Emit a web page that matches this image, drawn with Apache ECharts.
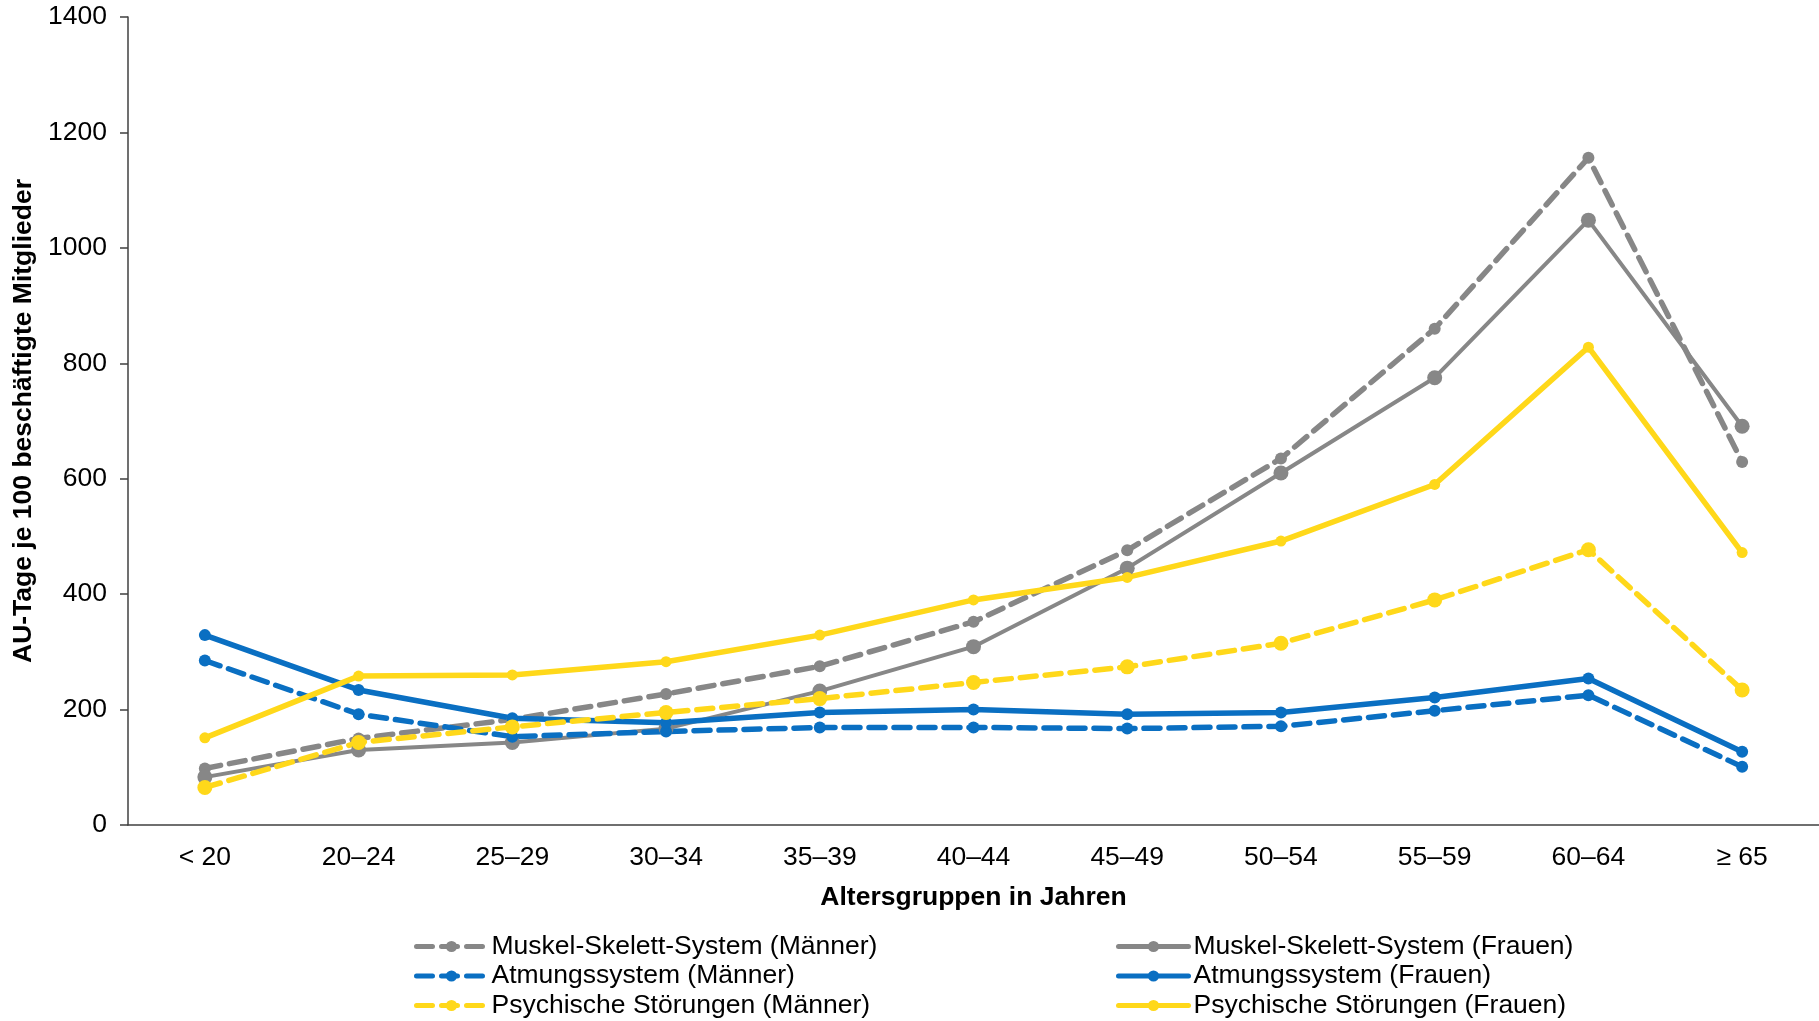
<!DOCTYPE html>
<html>
<head>
<meta charset="utf-8">
<script src="https://cdn.jsdelivr.net/npm/echarts@6/dist/echarts.min.js"></script>
<style>
html,body{margin:0;padding:0;background:#fff;}
#chart{width:1819px;height:1021px;}
</style>
</head>
<body>
<div id="chart"></div>
<script>
const categories = ['< 20','20–24','25–29','30–34','35–39','40–44','45–49','50–54','55–59','60–64','≥ 65'];
const yTicks = [0,200,400,600,800,1000,1200,1400];

const muskelMaenner = [98,150,183,227,275,352,476,635,860,1156,629];
const muskelFrauen  = [83,130,143,167,232,309,445,610,775,1048,691];
const atmungMaenner = [285,192,153,162,169,169,167,171,198,225,101];
const atmungFrauen  = [329,234,185,177,195,200,192,195,221,254,127];
const psychMaenner  = [65,143,170,195,219,247,274,315,390,477,234];
const psychFrauen   = [151,258,260,283,329,390,429,492,590,828,472];

const GRAY = '#878787', BLUE = '#0A6FC2', YELLOW = '#FFD81A';
const FONT = "'Liberation Sans', Arial, sans-serif";
const FS = 26.5;

function mk(name, data, color, dashed, width, size){
  return {
    name: name, type: 'line', data: data,
    symbol: 'circle', symbolSize: size,
    itemStyle: {color: color},
    lineStyle: {color: color, width: width, type: dashed ? [16, 9] : 'solid', cap: 'round'},
    emphasis: {disabled: true},
    animation: false
  };
}

const legendBase = {
  orient: 'vertical', top: 928, height: 95,
  itemWidth: 70, itemHeight: 14, itemGap: 2.5, itemTextGap: 7,
  lineStyle: {width: 5},
  textStyle: {fontFamily: FONT, fontSize: FS, color: '#000', lineHeight: 27},
  selectedMode: false
};

const chart = echarts.init(document.getElementById('chart'));
chart.setOption({
  backgroundColor: '#fff',
  animation: false,
  grid: {left: 128, top: 17, width: 1698, height: 808},
  xAxis: {
    type: 'category', data: categories, boundaryGap: true,
    name: 'Altersgruppen in Jahren', nameLocation: 'middle', nameGap: 59,
    nameTextStyle: {fontFamily: FONT, fontSize: FS, fontWeight: 'bold', color: '#000'},
    axisLine: {lineStyle: {color: '#404040', width: 1.5}},
    axisTick: {show: false},
    axisLabel: {fontFamily: FONT, fontSize: FS, color: '#000', margin: 19, interval: 0}
  },
  yAxis: {
    type: 'value', min: yTicks[0], max: yTicks[yTicks.length-1], interval: 200,
    name: 'AU-Tage je 100 beschäftigte Mitglieder', nameLocation: 'middle', nameGap: 85,
    nameTextStyle: {fontFamily: FONT, fontSize: FS, fontWeight: 'bold', color: '#000'},
    axisLine: {show: true, lineStyle: {color: '#404040', width: 1.5}},
    axisTick: {show: true, length: 8, lineStyle: {color: '#404040', width: 1.5}},
    splitLine: {show: false},
    axisLabel: {fontFamily: FONT, fontSize: FS, color: '#000', margin: 21, formatter: function(v){ return String(v); }}
  },
  legend: [
    Object.assign({}, legendBase, {
      left: 409,
      data: ['Muskel-Skelett-System (Männer)','Atmungssystem (Männer)','Psychische Störungen (Männer)']
    }),
    Object.assign({}, legendBase, {
      left: 1111,
      data: ['Muskel-Skelett-System (Frauen)','Atmungssystem (Frauen)','Psychische Störungen (Frauen)']
    })
  ],
  series: [
    mk('Muskel-Skelett-System (Männer)', muskelMaenner, GRAY, true, 5.5, 12),
    mk('Muskel-Skelett-System (Frauen)', muskelFrauen, GRAY, false, 4, 15),
    mk('Atmungssystem (Männer)', atmungMaenner, BLUE, true, 5.5, 12),
    mk('Atmungssystem (Frauen)', atmungFrauen, BLUE, false, 5.5, 12),
    mk('Psychische Störungen (Männer)', psychMaenner, YELLOW, true, 5.5, 15),
    mk('Psychische Störungen (Frauen)', psychFrauen, YELLOW, false, 5.5, 11)
  ]
});
</script>
</body>
</html>
